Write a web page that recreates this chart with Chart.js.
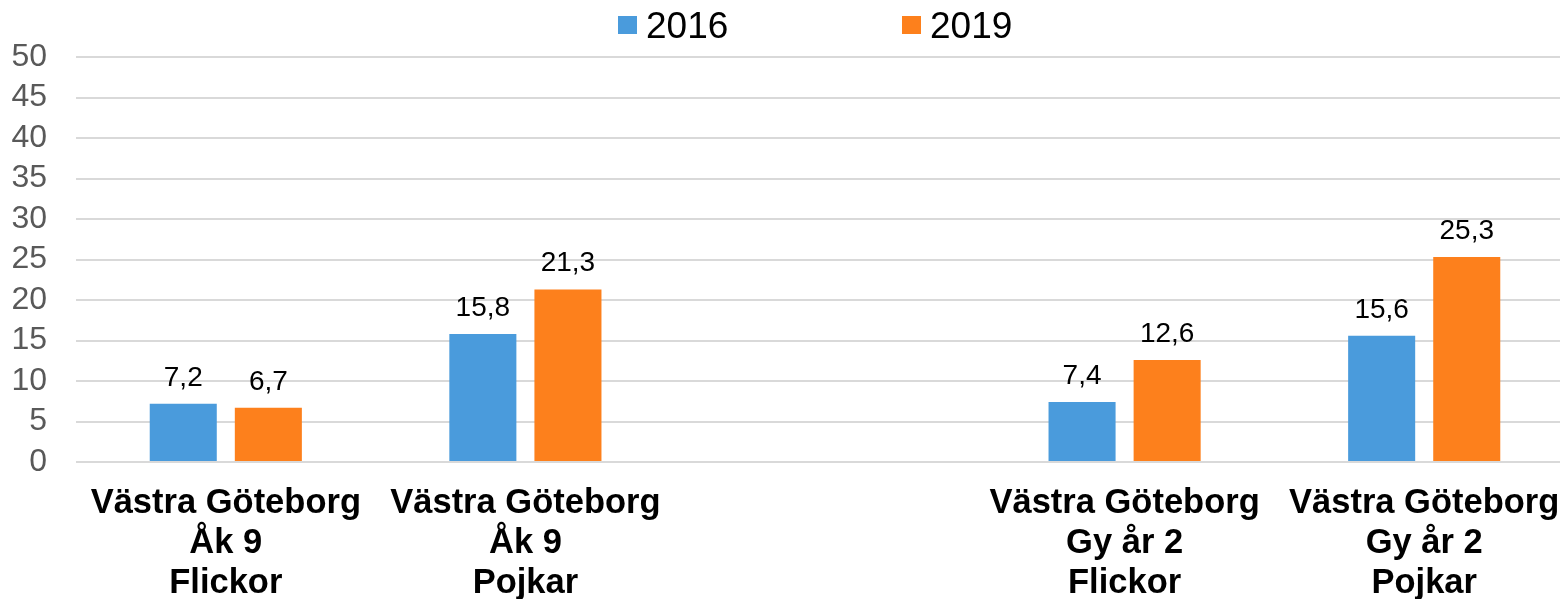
<!DOCTYPE html>
<html>
<head>
<meta charset="utf-8">
<script src="https://cdn.jsdelivr.net/npm/chart.js@4.4.1/dist/chart.umd.min.js"></script>
<style>
    html, body { margin: 0; padding: 0; background: #fff; overflow: hidden; }
    #wrap { width: 1574px; height: 599px; }
</style>
</head>
<body>
<div id="wrap"><canvas id="barChart" width="1574" height="599"></canvas></div>
<script>
// Chart data
const categories = [
    ['Västra Göteborg', 'Åk 9', 'Flickor'],
    ['Västra Göteborg', 'Åk 9', 'Pojkar'],
    '',
    ['Västra Göteborg', 'Gy år 2', 'Flickor'],
    ['Västra Göteborg', 'Gy år 2', 'Pojkar']
];
const values2016 = [7.2, 15.8, null, 7.4, 15.6];
const values2019 = [6.7, 21.3, null, 12.6, 25.3];
const seriesNames = ['2016', '2019'];
const yTicks = [0, 5, 10, 15, 20, 25, 30, 35, 40, 45, 50];

const FONT = '"Liberation Sans", Arial, sans-serif';

// Value labels above each bar, Swedish decimal comma
const valueLabels = {
    id: 'valueLabels',
    afterDatasetsDraw(chart) {
        const ctx = chart.ctx;
        ctx.save();
        ctx.font = '28px ' + FONT;
        ctx.fillStyle = '#000';
        ctx.textAlign = 'center';
        ctx.textBaseline = 'alphabetic';
        chart.data.datasets.forEach((ds, i) => {
            chart.getDatasetMeta(i).data.forEach((bar, j) => {
                const v = ds.data[j];
                if (v === null) return;
                ctx.fillText(v.toFixed(1).replace('.', ','), bar.x, bar.y - 18);
            });
        });
        ctx.restore();
    }
};

// Legend drawn at the top, wide spacing like the original
const topLegend = {
    id: 'topLegend',
    afterDraw(chart) {
        const ctx = chart.ctx;
        const starts = [618, 902];
        ctx.save();
        ctx.font = '37px ' + FONT;
        ctx.textBaseline = 'alphabetic';
        chart.data.datasets.forEach((ds, i) => {
            ctx.fillStyle = ds.backgroundColor;
            ctx.fillRect(starts[i], 16, 19, 18);
            ctx.fillStyle = '#000';
            ctx.fillText(ds.label, starts[i] + 28, 38);
        });
        ctx.restore();
    }
};

// keep axis sizes fixed so the plot area lands where it should
function fixSize(prop, size) {
    return function (scale) {
        scale[prop] = size;
        scale.paddingLeft = 0;
        scale.paddingRight = 0;
        scale.paddingTop = 0;
        scale.paddingBottom = 0;
    };
}

const ctx = document.getElementById('barChart').getContext('2d');
const barChart = new Chart(ctx, {
    type: 'bar',
    data: {
        labels: categories,
        datasets: [{
            label: seriesNames[0],
            data: values2016,
            backgroundColor: '#4a9bdc',
            categoryPercentage: 0.568,
            barPercentage: 0.788
        }, {
            label: seriesNames[1],
            data: values2019,
            backgroundColor: '#fd801c',
            categoryPercentage: 0.568,
            barPercentage: 0.788
        }]
    },
    options: {
        responsive: false,
        animation: false,
        layout: {
            padding: { top: 57, left: 0, right: 0, bottom: 0 }
        },
        plugins: {
            legend: { display: false },
            tooltip: { enabled: false },
            title: { display: false }
        },
        scales: {
            x: {
                afterFit: fixSize('height', 137),
                grid: { display: false, drawTicks: false },
                border: { display: false },
                ticks: {
                    color: '#000',
                    padding: 21,
                    maxRotation: 0,
                    autoSkip: false,
                    font: { family: FONT, size: 34.5, weight: 'bold', lineHeight: '40px' }
                }
            },
            y: {
                min: 0,
                max: 50,
                afterFit: fixSize('width', 76),
                afterBuildTicks(axis) {
                    axis.ticks = yTicks.map(v => ({ value: v }));
                },
                grid: { color: '#d9d9d9', lineWidth: 2, drawTicks: false },
                border: { display: false },
                ticks: {
                    color: '#595959',
                    padding: 29,
                    autoSkip: false,
                    font: { family: FONT, size: 32 }
                }
            }
        }
    },
    plugins: [valueLabels, topLegend]
});
</script>
</body>
</html>
